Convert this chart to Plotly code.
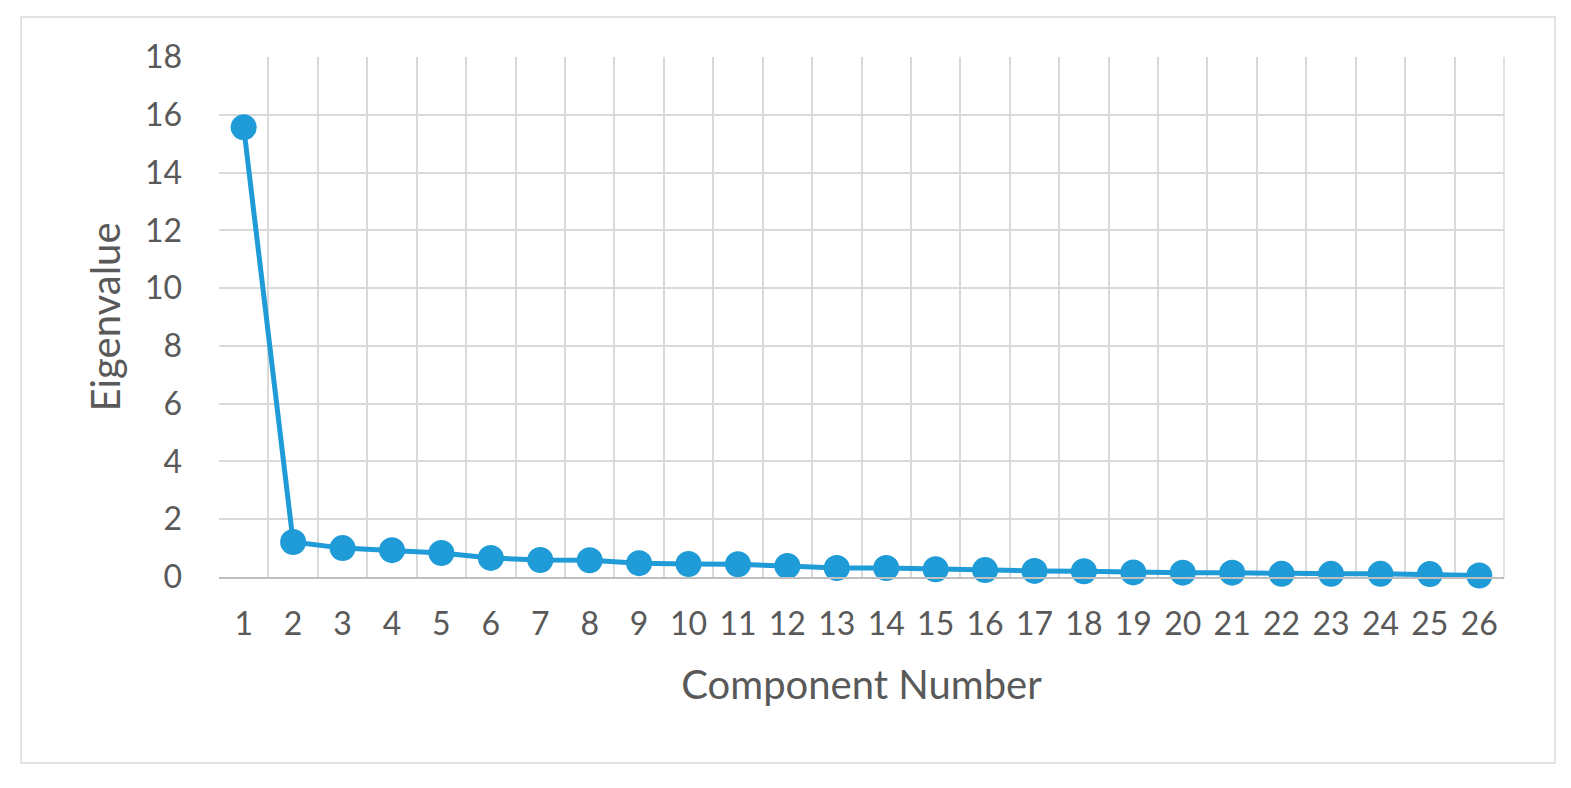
import plotly.graph_objects as go

components = list(range(1, 27))
eigenvalues = [15.57, 1.21, 1.00, 0.93, 0.83, 0.66, 0.59, 0.58, 0.48, 0.45,
               0.44, 0.38, 0.31, 0.31, 0.27, 0.24, 0.21, 0.20, 0.16, 0.15,
               0.15, 0.11, 0.11, 0.11, 0.10, 0.05]
y_ticks = list(range(0, 19, 2))

blue = "#1F9BD7"
grid = "#D9D9D9"
txt = "#595959"
font_name = "Lato"

fig = go.Figure()
fig.add_trace(go.Scatter(
    x=components, y=eigenvalues, mode="lines+markers",
    line=dict(color=blue, width=5),
    marker=dict(color=blue, size=26),
    showlegend=False, cliponaxis=False,
))

# page body has an 8px margin, so margins are shifted by 8
fig.update_layout(
    width=1571, height=788,
    margin=dict(l=211, r=75, t=49, b=219),
    paper_bgcolor="white", plot_bgcolor="white",
    font=dict(family=font_name, color=txt),
    xaxis=dict(
        range=[0.5, 26.5], tickvals=components, ticktext=[str(c) for c in components],
        showgrid=False, zeroline=False,
        minor=dict(tick0=0.5, dtick=1, showgrid=True, gridcolor=grid, gridwidth=1.5),
        showline=True, linecolor="#BFBFBF", linewidth=2, mirror=False,
        tickfont=dict(size=32, color=txt), ticklabelstandoff=18,
        title=dict(text="Component Number", font=dict(size=40, color=txt), standoff=30),
    ),
    yaxis=dict(
        range=[0, 18], tickvals=y_ticks, showgrid=True, gridcolor=grid, gridwidth=1.5,
        zeroline=False, tickfont=dict(size=32, color=txt), ticklabelstandoff=36,
        title=dict(text="Eigenvalue", font=dict(size=40, color=txt), standoff=11),
    ),
    shapes=[
        dict(type="rect", xref="paper", yref="paper",
             x0=-0.154, x1=1.0397, y0=-0.3577, y1=1.0769,
             line=dict(color="#D9D9D9", width=1.5), layer="below"),
        dict(type="line", xref="paper", yref="paper", x0=1, x1=1, y0=0, y1=1,
             line=dict(color=grid, width=1.5), layer="below"),
    ],
)

fig.write_html("out.html")
